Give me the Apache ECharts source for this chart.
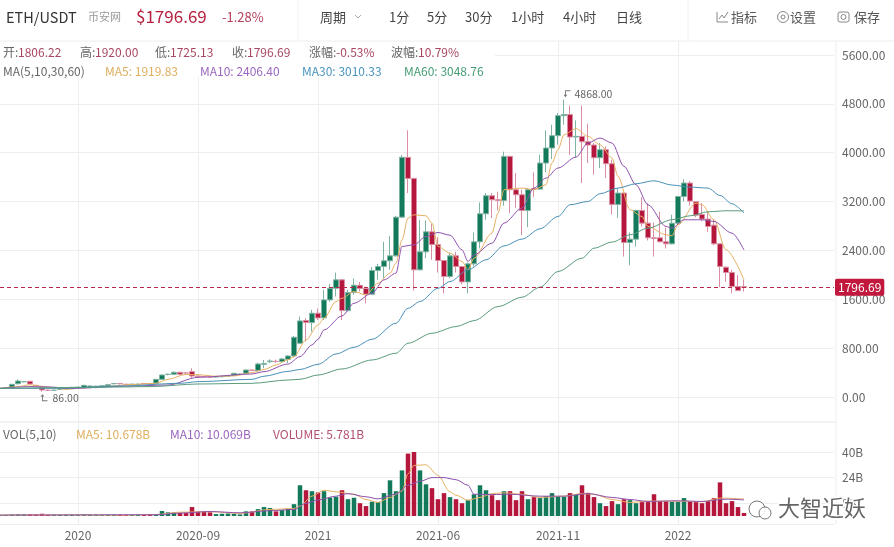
<!DOCTYPE html>
<html><head><meta charset="utf-8">
<style>html,body{margin:0;padding:0;background:#fff}#c{width:894px;height:547px}</style>
<script src="https://cdn.jsdelivr.net/npm/echarts@6/dist/echarts.min.js"></script>
</head><body><div id="c"></div>
<script>
const tickIndexes=[13,33,53,73,93,113];
const tickLabels=['2020','2020-09','2021','2021-06','2021-11','2022'];
const opens=[140,140,158,218,250,257,191,153,110,109,
125,136,155,158,153,153,153,160,180,218,
220,208,207,206,220,218,224,289,370,372,
404,395,415,344,335,328,328,333,344,355,
372,388,442,435,535,578,585,579,617,672,
880,1251,1218,1372,1295,1590,1781,1918,1415,1710,
1830,1776,1683,2071,2137,2230,2311,2945,3924,3579,
2082,2377,2705,2497,2235,1973,2311,2137,1885,2180,
2541,3000,3295,3230,3219,3940,3394,3312,3055,3415,
3404,3831,4077,4279,4607,4625,4257,4268,4180,4126,
3918,4049,3820,3153,3339,2530,2585,3055,2847,2607,
2607,2541,2508,2847,3284,3503,3197,2989,2913,2814,
2508,2126,2038,1809,1806.22];
const closes=[145,150,207,262,251,213,180,115,109,112,
128,138,158,160,191,180,178,185,202,220,
218,206,209,208,218,216,289,360,372,404,
372,393,344,333,333,326,330,335,346,388,
375,442,435,541,550,590,580,623,672,978,
1246,1218,1372,1295,1590,1781,1918,1415,1710,1830,
1776,1683,2071,2137,2230,2311,2945,3924,3579,2082,
2377,2705,2497,2235,1973,2311,2137,1885,2180,2541,
3000,3295,3230,3219,3940,3394,3312,3055,3394,3404,
3831,4077,4279,4607,4625,4257,4268,4180,4126,3918,
4049,3820,3153,3339,2530,2585,3055,2847,2607,2596,
2541,2508,2847,3284,3503,3208,2978,2913,2792,2508,
2137,2038,1809,1743,1796.69];
const lows=[130,130,150,202,240,205,175,86,100,100,
115,125,145,150,145,148,145,150,170,205,
205,198,198,198,210,208,215,280,355,360,
360,380,305,320,320,315,315,320,330,345,
360,380,425,415,470,552,560,570,555,650,
870,907,1070,1260,1260,1560,1645,1262,1399,1672,
1727,1535,1672,1918,1945,2082,2300,2929,3339,1743,
2071,2273,2246,2038,1699,1945,2038,1842,1699,2137,
2432,2902,2929,3055,3131,3011,3098,2650,2781,3273,
3394,3678,3896,4131,4459,3967,3918,3503,3831,3639,
3749,3585,2989,2929,2300,2158,2465,2792,2563,2300,
2535,2432,2497,2836,3202,3131,2945,2874,2705,2486,
1798,1885,1699,1732,1725.13];
const highs=[150,155,215,289,262,262,198,180,125,120,
135,145,165,168,198,190,185,190,215,228,
228,215,218,222,228,225,295,370,385,420,
415,405,470,355,345,340,340,345,360,395,
385,450,450,562,606,617,610,640,688,1000,
1317,1290,1426,1448,1754,1852,2038,1930,1754,1940,
1885,1809,2126,2180,2541,2639,2967,3962,4366,3590,
2902,2891,2836,2618,2240,2366,2377,2147,2202,2694,
3186,3339,3339,3361,4017,3951,3667,3394,3421,3678,
3967,4366,4459,4650,4868,4771,4530,4771,4476,4159,
4159,4104,3885,3421,3350,2694,3060,3273,3175,2858,
3033,2770,2984,3290,3568,3536,3200,3175,3033,2902,
2510,2137,2082,1995,1920];
const volumes=[.6,.6,.8,1,1,1,.9,1.4,.7,.7,
.7,.7,.7,.6,.8,.7,.6,.6,.7,.7,
.8,.6,.6,.6,.6,.6,1,3.1,2.3,2.3,
2,2,5.6,2.7,2.7,2.3,1.2,1.4,1.6,1.4,
1,2.9,2.9,4.3,5.6,5,2.9,3.7,4.5,7.4,
19.2,16.1,15.5,14.7,15.5,11.6,12,16.1,10.5,11.4,
8,6.2,8.9,8.7,14.3,22.3,15.5,28.5,39,47.7,
28.5,19.8,17.4,10.5,14.3,11.8,10.5,8,9.9,13.6,
19.2,16.1,13,9.9,15.5,15.5,9.9,15.5,10.5,11.8,
11.2,12.4,14.3,12.4,12,14.3,13.6,19.2,14.5,11.8,
8,6.2,9.3,7.4,10.5,9.9,8,8.7,8.7,13.6,
9.3,9.3,8.9,8.9,11.2,9.3,8.7,8,9.3,11.2,
21,8,9.3,5.6,1.9];
// moving-average lines as [candle index, value]
const ma5Points=[[0,140],[3,170],[5,200],[7,175],[9,150],[11,125],[14,150],[18,175],[22,205],[26,225],[28,290],[31,370],[33,365],[36,340],[39,345],[42,400],[44,450],[46,524],[48,610],[49,661],[51,934],[53,1180],[54,1290],[56,1563],[57,1617],[59,1727],[61,1672],[63,1863],[65,2027],[66,2191],[67,2574],[68,2929],[69,2984],[71,2967],[72,2847],[73,2465],[75,2355],[77,2219],[78,2082],[79,2273],[82,2683],[83,3011],[84,3394],[87,3421],[89,3394],[91,3476],[92,3831],[93,4049],[94,4295],[96,4394],[98,4268],[100,4131],[102,3913],[103,3612],[105,3066],[107,2956],[108,2792],[111,2656],[112,2640],[113,2820],[116,3175],[117,3148],[119,2902],[121,2410],[124,1919.83]];
const ma10Points=[[0,140],[5,170],[8,165],[12,140],[20,175],[28,196],[33,322],[42,377],[44,415],[48,540],[50,661],[52,852],[53,945],[54,1098],[57,1328],[59,1535],[62,1699],[64,1918],[66,2027],[67,2465],[69,2492],[71,2628],[73,2694],[75,2650],[77,2410],[78,2219],[79,2328],[82,2519],[84,2847],[87,3093],[89,3421],[91,3585],[93,3749],[96,3929],[98,4159],[100,4241],[102,4159],[104,3776],[106,3476],[108,3148],[111,2792],[112,2765],[114,2902],[117,2902],[119,2874],[122,2683],[124,2406.4]];
const ma30Points=[[0,142],[10,142],[20,180],[30,224],[33,251],[42,289],[44,340],[48,420],[50,450],[53,535],[56,705],[59,814],[62,945],[66,1208],[68,1453],[70,1563],[73,1781],[75,1890],[78,2082],[81,2246],[84,2475],[87,2585],[90,2754],[93,2956],[95,3148],[98,3202],[100,3328],[103,3421],[106,3492],[109,3541],[112,3470],[115,3437],[118,3421],[120,3300],[122,3164],[124,3010.33]];
const ma60Points=[[0,140],[15,158],[25,170],[33,213],[42,224],[48,278],[50,290],[53,360],[57,459],[62,606],[66,716],[68,880],[72,1044],[76,1153],[79,1251],[83,1481],[87,1634],[90,1798],[93,2055],[97,2273],[99,2437],[102,2536],[105,2656],[108,2765],[112,2902],[115,2967],[118,3033],[121,3049],[124,3048.76]];
const volMa5Points=[[0,.6],[10,.7],[20,.6],[26,.9],[30,2.4],[35,2.7],[40,1.6],[45,4.1],[49,4.7],[50,6.2],[52,12.4],[54,16.1],[56,15.1],[59,13.6],[61,10.3],[63,8.5],[65,11.6],[67,15.5],[68,26.4],[69,31.6],[71,32],[73,25.4],[75,15.1],[76,13],[78,9.9],[80,11.6],[82,14],[84,14.5],[87,13.6],[90,11.6],[94,12.4],[97,14],[99,13.6],[102,10.3],[105,8.5],[108,9.3],[113,9.3],[117,8.9],[120,11.2],[124,10.678]];
const volMa10Points=[[0,.6],[26,.8],[30,1.8],[35,2.8],[40,2],[45,3.3],[49,4.1],[51,7.9],[53,10],[56,12.4],[58,14],[61,12],[63,10.7],[66,13.7],[68,19.2],[70,21.7],[72,24],[74,24],[76,22.7],[78,19.2],[79,13.6],[82,13.4],[85,13.6],[90,12.4],[94,12.4],[98,14],[102,11.6],[105,10.3],[108,9.1],[113,9.5],[117,9.1],[121,10.5],[124,10.069]];
const yTicksPrice={min:0,max:5600,interval:800};
const lastPrice=1796.69, highIndex=94, highValue=4868, lowIndex=7, lowValue=86;
const headerRow1=[['开:',3,18,'1806.22'],['高:',80,95,'1920.00'],['低:',155,170,'1725.13'],['收:',232,247,'1796.69'],['涨幅:',309,336,'-0.53%'],['波幅:',391,418,'10.79%']];

const slotCount=140;
const categories=[];
for(let i=0;i<slotCount;i++){const k=tickIndexes.indexOf(i);categories.push(k>=0?tickLabels[k]:'');}
const GREEN='#12795b',RED='#b5173c',GW='#7fb3a3',RW='#d98ea3';
const C5='#e6b061',C10='#8f52ad',C30='#4a90b8',C60='#5a9c7c';
const FONT='"Noto Sans CJK SC","Noto Sans",sans-serif';
const isTick=(i,v)=>v!=='';
const candleData=opens.map((o,i)=>[o,closes[i],lows[i],highs[i]]);
const hiddenX=(g)=>({type:'category',gridIndex:g,data:categories,boundaryGap:false,show:false});
const maLine=(name,pts,c,x,y)=>({name,type:'line',xAxisIndex:x,yAxisIndex:y,data:pts,smooth:0.3,smoothMonotone:'x',showSymbol:false,symbol:'none',lineStyle:{color:c,width:1},itemStyle:{color:c},silent:true,z:3});
const T=(text,x,y,size,fill,extra)=>({type:'text',x,y,z:12,silent:true,style:Object.assign({text,fontSize:size,fill,fontFamily:FONT,textVerticalAlign:'middle',textBaseline:'middle'},extra||{})});
const L=(x1,y1,x2,y2,c)=>({type:'line',silent:true,shape:{x1,y1,x2,y2},style:{stroke:c||'#eeeeee',lineWidth:1}});

const graphic=[
 {type:'rect',z:10,silent:true,shape:{x:0,y:42,width:495,height:35},style:{fill:'#fff'}},
 L(0,41,894,41),L(0,422,836,422,'#e6e6e6'),L(836,41,836,524,'#eeeeee'),L(298,0,298,41,'#f2f2f2'),L(688,0,688,41,'#f2f2f2'),
 T('ETH/USDT',6,17,14.5,'#333'),T('币安网',88,17,11,'#9a9a9a'),T('$1796.69',136,17,17,'#b5203f'),T('-1.28%',222,17,13,'#b5405a'),
 T('周期',320,17,13,'#444'),{type:'polyline',silent:true,shape:{points:[[355,15],[358,18],[361,15]]},style:{stroke:'#aaa',fill:null,lineWidth:1}},
 T('1分',389,17,13,'#444'),T('5分',427,17,13,'#444'),T('30分',465,17,13,'#444'),T('1小时',511,17,13,'#444'),T('4小时',563,17,13,'#444'),T('日线',616,17,13,'#444'),
 {type:'polyline',silent:true,shape:{points:[[717,12],[717,22],[728,22]]},style:{stroke:'#888',fill:null,lineWidth:1}},
 {type:'polyline',silent:true,shape:{points:[[719,19],[722,15],[724,18],[728,12]]},style:{stroke:'#888',fill:null,lineWidth:1}},
 T('指标',731,17,13,'#555'),
 {type:'circle',silent:true,shape:{cx:783,cy:17,r:5.5},style:{stroke:'#888',fill:null,lineWidth:1}},{type:'circle',silent:true,shape:{cx:783,cy:17,r:2},style:{stroke:'#888',fill:null,lineWidth:1}},
 T('设置',790,17,13,'#555'),
 {type:'rect',silent:true,shape:{x:838,y:12,width:11,height:10,r:2},style:{stroke:'#888',fill:null,lineWidth:1}},{type:'circle',silent:true,shape:{cx:843.5,cy:17,r:2.5},style:{stroke:'#888',fill:null,lineWidth:1}},
 T('保存',854,17,13,'#555'),
 ...headerRow1.flatMap(r=>[T(r[0],r[1],52,12,'#666'),T(r[3],r[2],52,12,'#a8475f')]),
 T('MA(5,10,30,60)',3,71,12,'#666'),T('MA5: 1919.83',105,71,12,'#dfae5e'),T('MA10: 2406.40',200,71,12,'#9a66bf'),T('MA30: 3010.33',302,71,12,'#4a95c0'),T('MA60: 3048.76',404,71,12,'#459d75'),
 T('VOL(5,10)',3,434,12,'#666'),T('MA5: 10.678B',76,434,12,'#dfae5e'),T('MA10: 10.069B',170,434,12,'#9a66bf'),T('VOLUME: 5.781B',273,434,12,'#b25073'),
 {type:'group',silent:true,z:20,children:[
  {type:'circle',z:20,shape:{cx:757,cy:509,r:8},style:{stroke:'#777',fill:'rgba(255,255,255,.85)',lineWidth:1}},
  {type:'circle',z:20,shape:{cx:765,cy:513,r:6},style:{stroke:'#777',fill:'rgba(255,255,255,.85)',lineWidth:1}},
  T('大智近妖',778,508,22,'#666',{stroke:'#fff',lineWidth:3,z:21})
 ]}
];

const option={
 animation:false,backgroundColor:'#fff',textStyle:{fontFamily:FONT},graphic,
 grid:[
  {left:0,width:834,top:55,height:342},
  {left:0,width:834,top:452,height:76.8},
  {left:0,width:834,top:41,height:483}
 ],
 xAxis:[hiddenX(0),hiddenX(1),{type:'category',gridIndex:2,data:categories,boundaryGap:false,
   axisLine:{show:true,lineStyle:{color:'#eeeeee'}},axisTick:{show:false},
   axisLabel:{interval:isTick,color:'#666',fontSize:12,margin:5,hideOverlap:false},
   splitLine:{show:true,interval:isTick,lineStyle:{color:'#eeeeee',width:1}}}],
 yAxis:[
  {type:'value',gridIndex:0,position:'right',min:yTicksPrice.min,max:yTicksPrice.max,interval:yTicksPrice.interval,axisLine:{show:false},axisTick:{show:false},
   axisLabel:{color:'#666',fontSize:12,margin:8,formatter:v=>v.toFixed(2)},splitLine:{lineStyle:{color:'#eeeeee'}}},
  {type:'value',gridIndex:1,position:'right',min:-8,max:40,interval:16,axisLine:{show:false},axisTick:{show:false},
   axisLabel:{color:'#666',fontSize:12,margin:8,showMinLabel:false,formatter:v=>v+'B'},splitLine:{showMinLine:false,lineStyle:{color:'#eeeeee'}}},
  {type:'value',gridIndex:2,show:false,min:0,max:1}
 ],
 series:[
  {type:'line',xAxisIndex:2,yAxisIndex:2,data:[],silent:true},
  {name:'K',type:'candlestick',xAxisIndex:0,yAxisIndex:0,data:candleData,barWidth:5,silent:true,z:2,
   itemStyle:{color:GREEN,color0:RED,borderColor:GW,borderColor0:RW,borderWidth:1},
   markLine:{silent:true,symbol:'none',animation:false,precision:2,lineStyle:{color:'#b8284a',type:[4,3],width:1},
     label:{show:true,position:'end',distance:1,formatter:v=>v.value.toFixed(2),color:'#fff',backgroundColor:'#c2183e',padding:[3,3,2,3],borderRadius:2,fontSize:12,fontFamily:FONT},
     data:[{yAxis:lastPrice}]},
   markPoint:{silent:true,animation:false,data:[
     {coord:[highIndex,highValue],symbol:'path://M6 0 L0 0 L0 5 L-1.6 5 L0.5 7.5 L2.6 5 L1 5 L1 1 L6 1 Z',symbolSize:[7,7],symbolOffset:[3,-6],itemStyle:{color:'#777'},
      label:{show:true,position:'right',distance:4,formatter:highValue.toFixed(2),color:'#666',fontSize:10.5,fontFamily:FONT}},
     {coord:[lowIndex,lowValue],symbol:'path://M6 7 L1 7 L1 2.5 L2.6 2.5 L0.5 0 L-1.6 2.5 L0 2.5 L0 8 L6 8 Z',symbolSize:[7,7],symbolOffset:[2,6],itemStyle:{color:'#777'},
      label:{show:true,position:'right',distance:5,formatter:lowValue.toFixed(2),color:'#666',fontSize:10.5,fontFamily:FONT}}
   ]}},
  maLine('MA5',ma5Points,C5,0,0),maLine('MA10',ma10Points,C10,0,0),maLine('MA30',ma30Points,C30,0,0),maLine('MA60',ma60Points,C60,0,0),
  {name:'VOL',type:'bar',xAxisIndex:1,yAxisIndex:1,barWidth:4.5,silent:true,data:volumes,
   itemStyle:{color:p=>closes[p.dataIndex]>=opens[p.dataIndex]?GREEN:RED}},
  maLine('VMA5',volMa5Points,C5,1,1),maLine('VMA10',volMa10Points,C10,1,1)
 ]
};
echarts.init(document.getElementById('c'),null,{renderer:'canvas'}).setOption(option);
</script></body></html>
